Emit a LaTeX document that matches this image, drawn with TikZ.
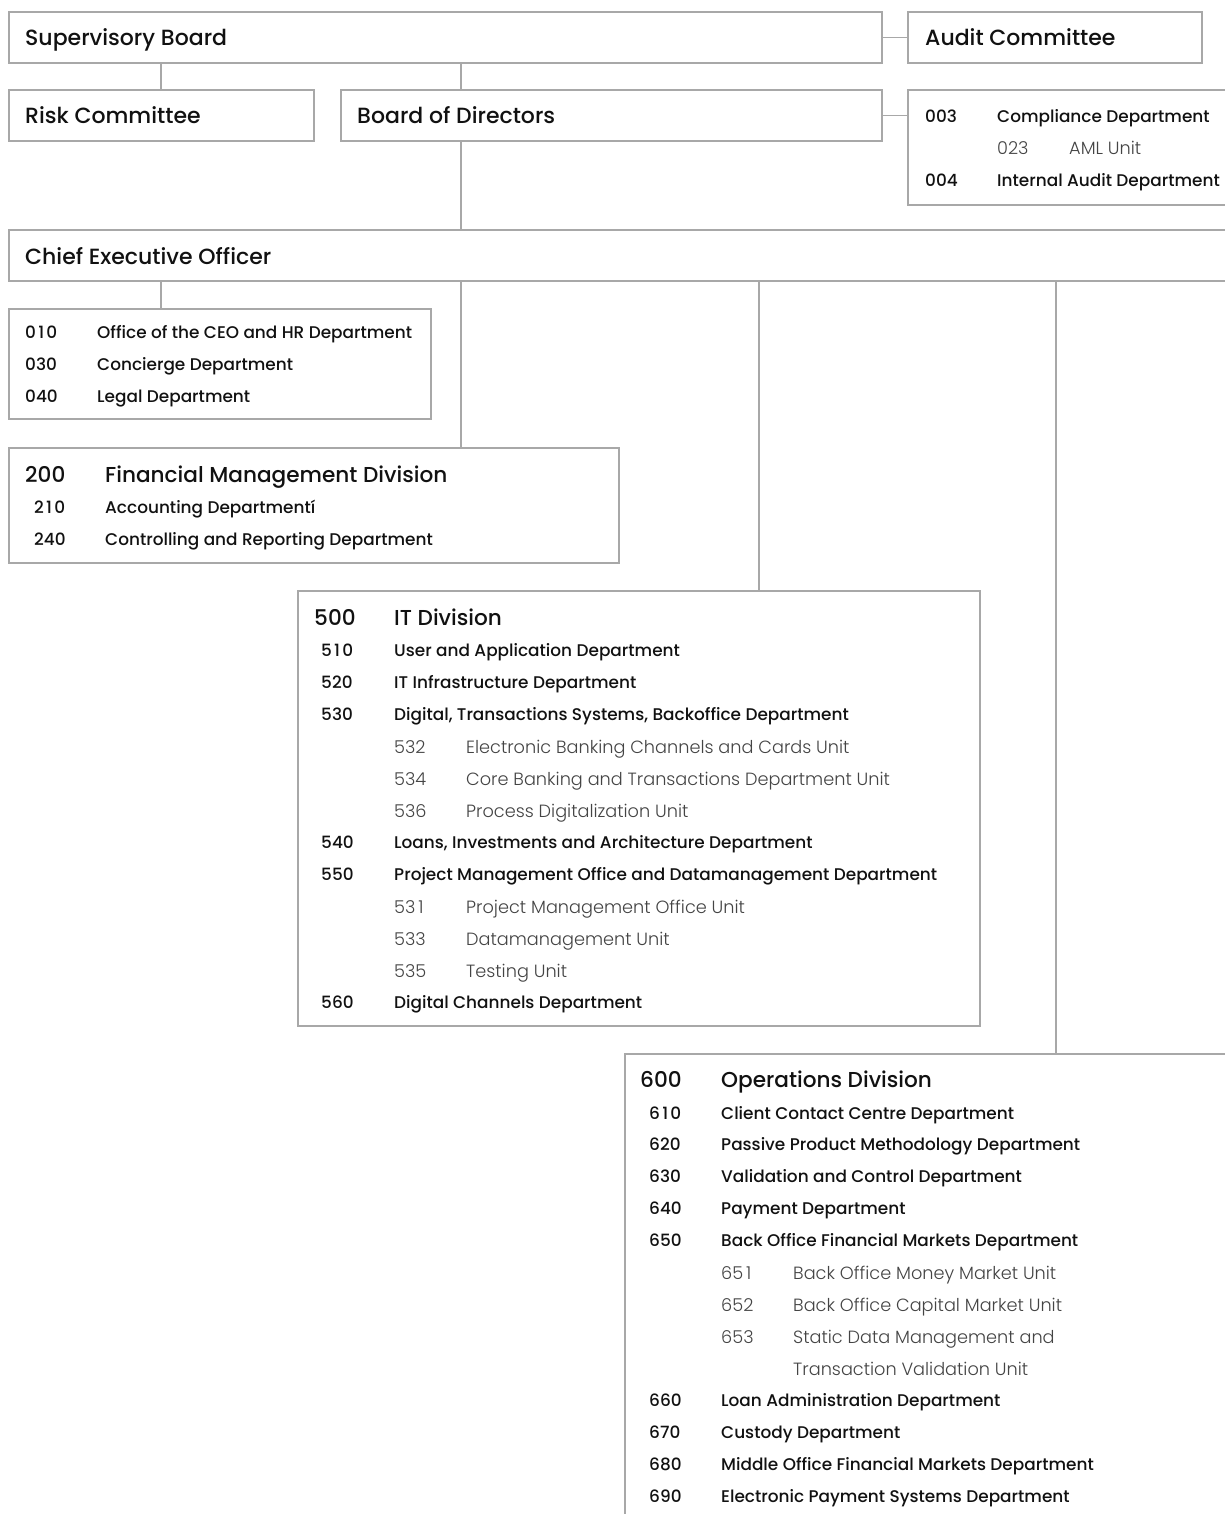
\documentclass[tikz,border=0pt]{standalone}
\usepackage{fontspec}
\setmainfont{Poppins}
\newfontfamily\fmed{Poppins Medium}
\newfontfamily\flight{Poppins Light}
\definecolor{bordercol}{HTML}{A8A8A8}
\definecolor{textdark}{HTML}{111111}
\definecolor{textlight}{HTML}{444444}
% tabular-width digit one
\newcommand\tone{\hbox to 0.615em{\hss 1\hss}}
\begin{document}
\begin{tikzpicture}[x=1pt,y=-1pt,
  box/.style={draw=bordercol, line width=1.2pt, anchor=north west, inner sep=0pt, outer sep=0pt},
  conn/.style={draw=bordercol, line width=1.2pt},
  headtxt/.style={anchor=base west, inner sep=0pt, text=textdark, font=\fmed\fontsize{22}{26}\selectfont},
  divtxt/.style={anchor=base west, inner sep=0pt, text=textdark, font=\fmed\fontsize{21.6}{25}\selectfont},
  itemtxt/.style={anchor=base west, inner sep=0pt, text=textdark, font=\fmed\fontsize{16.9}{20}\selectfont},
  subtxt/.style={anchor=base west, inner sep=0pt, text=textlight, font=\flight\fontsize{17.7}{20}\selectfont}]
\useasboundingbox (0,0) rectangle (1225,1514);
\clip (0,0) rectangle (1225,1514);
\fill[white] (0,0) rectangle (1225,1514);

% ---- boxes
\node[box, minimum width=873pt, minimum height=51pt] (sb) at (9,12) {};
\node[box, minimum width=294pt, minimum height=51pt] (ac) at (908,12) {};
\node[box, minimum width=305pt, minimum height=51pt] (rc) at (9,90) {};
\node[box, minimum width=541pt, minimum height=51pt] (bod) at (341,90) {};
\node[box, minimum width=340pt, minimum height=115pt] (comp) at (908,90) {};
\node[box, minimum width=1240pt, minimum height=51pt] (ceo) at (9,230) {};
\node[box, minimum width=422pt, minimum height=110pt] (ceoof) at (9,309) {};
\node[box, minimum width=610pt, minimum height=115pt] (fmd) at (9,448) {};
\node[box, minimum width=682pt, minimum height=435pt] (itd) at (298,591) {};
\node[box, minimum width=640pt, minimum height=500pt] (opd) at (625,1054) {};

% ---- connector x positions
\coordinate (xa) at (161,0);
\coordinate (xb) at (461,0);
\coordinate (xc) at (759,0);
\coordinate (xd) at (1056,0);

\draw[conn] (sb.east) -- (ac.west);
\draw[conn] (sb.south -| xa) -- (rc.north -| xa);
\draw[conn] (sb.south -| xb) -- (bod.north -| xb);
\draw[conn] (bod.east) -- (comp.west |- bod.east);
\draw[conn] (bod.south -| xb) -- (ceo.north -| xb);
\draw[conn] (ceo.south -| xa) -- (ceoof.north -| xa);
\draw[conn] (ceo.south -| xb) -- (fmd.north -| xb);
\draw[conn] (ceo.south -| xc) -- (itd.north -| xc);
\draw[conn] (ceo.south -| xd) -- (opd.north -| xd);

% ---- top texts
\node[headtxt] (tsb) at (25,46) {Supervisory Board};
\node[headtxt] (tac) at (925,46) {Audit Committee};
\node[headtxt] (trc) at (25,124) {Risk Committee};
\node[headtxt] (tbod) at (357,124) {Board of Directors};
\node[headtxt] (tceo) at (25,265) {Chief Executive Officer};

% ---- compliance box
\node[itemtxt] (n003) at (925,123) {003};
\node[itemtxt] (t003) at (997,123) {Compliance Department};
\node[subtxt] (n023) at (997,155) {023};
\node[subtxt] (t023) at (1069,155) {AML Unit};
\node[itemtxt] (n004) at (925,187) {004};
\node[itemtxt] (t004) at (997,187) {Internal Audit Department};

% ---- CEO office box
\node[itemtxt] (n010) at (25,338) {0\tone0};
\node[itemtxt] (t010) at (97,338) {Office of the CEO and HR Department};
\node[itemtxt] (n030) at (25,370) {030};
\node[itemtxt] (t030) at (97,370) {Concierge Department};
\node[itemtxt] (n040) at (25,402) {040};
\node[itemtxt] (t040) at (97,402) {Legal Department};

% ---- financial management
\node[divtxt] (n200) at (25,482) {200};
\node[divtxt] (t200) at (105,482) {Financial Management Division};
\node[itemtxt] (n210) at (34,513) {2\tone0};
\node[itemtxt] (t210) at (105,513) {Accounting Departmentí};
\node[itemtxt] (n240) at (34,545) {240};
\node[itemtxt] (t240) at (105,545) {Controlling and Reporting Department};

% ---- IT division
\node[divtxt] (n500) at (314,625) {500};
\node[divtxt] (t500) at (394,625) {IT Division};
\node[itemtxt] (n510) at (321,656) {5\tone0};
\node[itemtxt] (t510) at (394,656) {User and Application Department};
\node[itemtxt] (n520) at (321,688) {520};
\node[itemtxt] (t520) at (394,688) {IT Infrastructure Department};
\node[itemtxt] (n530) at (321,720) {530};
\node[itemtxt] (t530) at (394,720) {Digital, Transactions Systems, Backoffice Department};
\node[subtxt] (n532) at (394,753) {532};
\node[subtxt] (t532) at (466,753) {Electronic Banking Channels and Cards Unit};
\node[subtxt] (n534) at (394,785) {534};
\node[subtxt] (t534) at (466,785) {Core Banking and Transactions Department Unit};
\node[subtxt] (n536) at (394,817) {536};
\node[subtxt] (t536) at (466,817) {Process Digitalization Unit};
\node[itemtxt] (n540) at (321,848) {540};
\node[itemtxt] (t540) at (394,848) {Loans, Investments and Architecture Department};
\node[itemtxt] (n550) at (321,880) {550};
\node[itemtxt] (t550) at (394,880) {Project Management Office and Datamanagement Department};
\node[subtxt] (n531) at (394,913) {53\tone};
\node[subtxt] (t531) at (466,913) {Project Management Office Unit};
\node[subtxt] (n533) at (394,945) {533};
\node[subtxt] (t533) at (466,945) {Datamanagement Unit};
\node[subtxt] (n535) at (394,977) {535};
\node[subtxt] (t535) at (466,977) {Testing Unit};
\node[itemtxt] (n560) at (321,1008) {560};
\node[itemtxt] (t560) at (394,1008) {Digital Channels Department};

% ---- Operations division
\node[divtxt] (n600) at (640,1087) {600};
\node[divtxt] (t600) at (721,1087) {Operations Division};
\node[itemtxt] (n610) at (649,1119) {6\tone0};
\node[itemtxt] (t610) at (721,1119) {Client Contact Centre Department};
\node[itemtxt] (n620) at (649,1150) {620};
\node[itemtxt] (t620) at (721,1150) {Passive Product Methodology Department};
\node[itemtxt] (n630) at (649,1182) {630};
\node[itemtxt] (t630) at (721,1182) {Validation and Control Department};
\node[itemtxt] (n640) at (649,1214) {640};
\node[itemtxt] (t640) at (721,1214) {Payment Department};
\node[itemtxt] (n650) at (649,1246) {650};
\node[itemtxt] (t650) at (721,1246) {Back Office Financial Markets Department};
\node[subtxt] (n651) at (721,1279) {65\tone};
\node[subtxt] (t651) at (793,1279) {Back Office Money Market Unit};
\node[subtxt] (n652) at (721,1311) {652};
\node[subtxt] (t652) at (793,1311) {Back Office Capital Market Unit};
\node[subtxt] (n653) at (721,1343) {653};
\node[subtxt] (t653) at (793,1343) {Static Data Management and};
\node[subtxt] (t653b) at (793,1375) {Transaction Validation Unit};
\node[itemtxt] (n660) at (649,1406) {660};
\node[itemtxt] (t660) at (721,1406) {Loan Administration Department};
\node[itemtxt] (n670) at (649,1438) {670};
\node[itemtxt] (t670) at (721,1438) {Custody Department};
\node[itemtxt] (n680) at (649,1470) {680};
\node[itemtxt] (t680) at (721,1470) {Middle Office Financial Markets Department};
\node[itemtxt] (n690) at (649,1502) {690};
\node[itemtxt] (t690) at (721,1502) {Electronic Payment Systems Department};
\end{tikzpicture}
\end{document}
